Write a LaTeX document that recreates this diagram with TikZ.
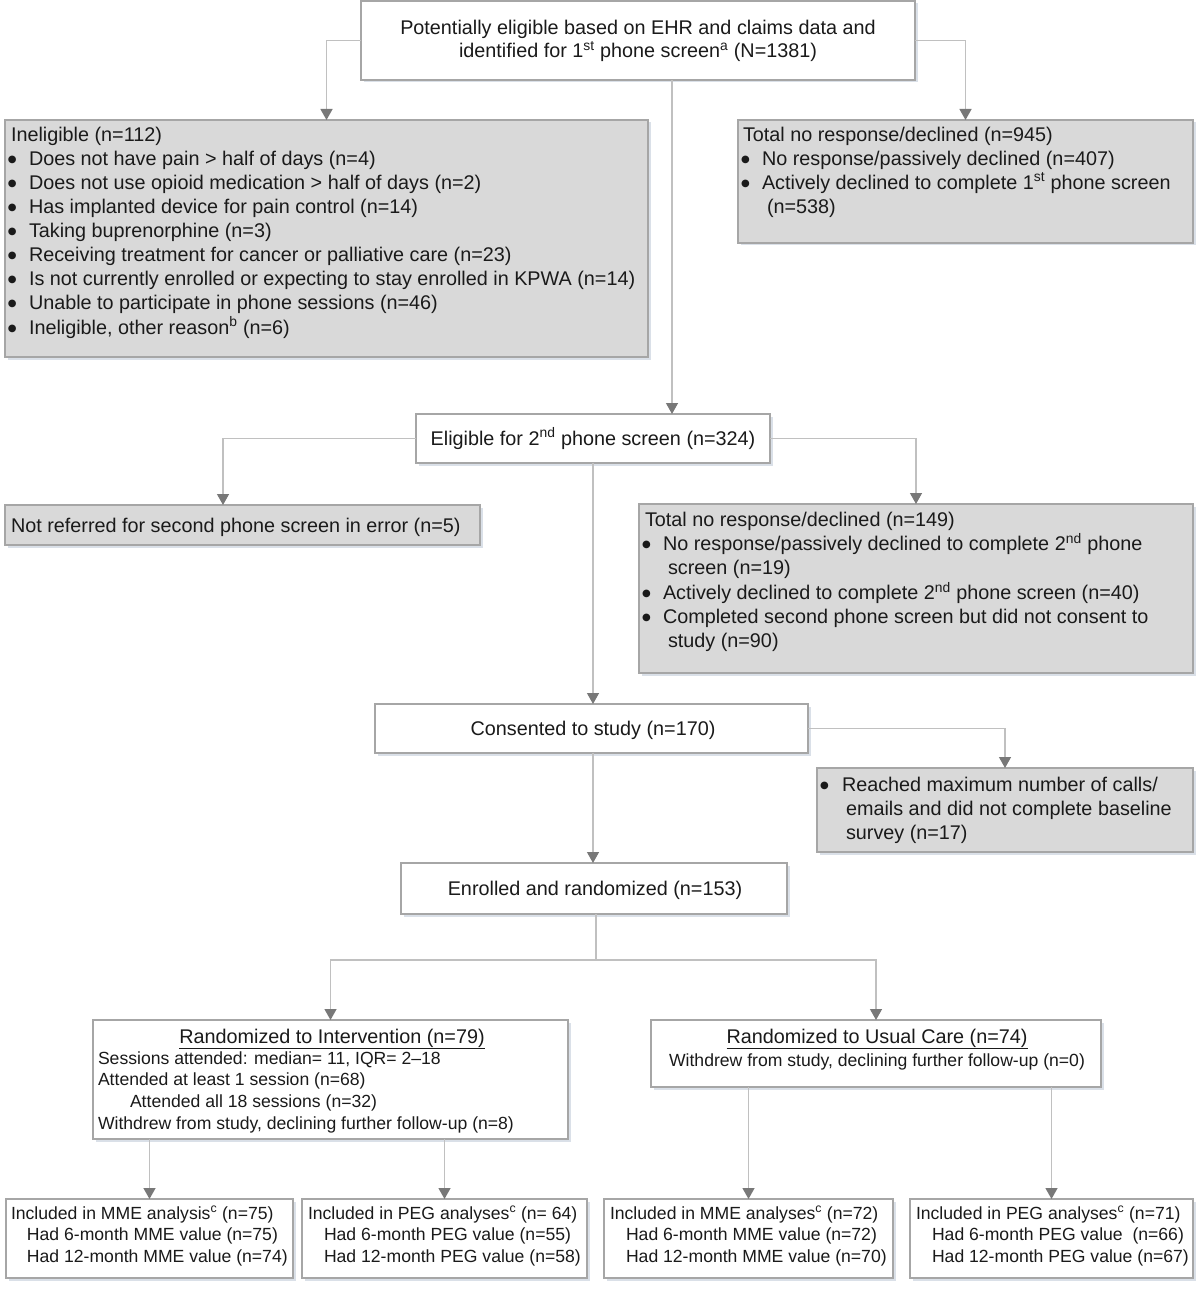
\documentclass[tikz,border=0pt]{standalone}
\usepackage{fontspec}
\setmainfont{Liberation Sans}
\newfontfamily\dvfont{DejaVu Sans}
\usetikzlibrary{arrows.meta,shadows}
\definecolor{bord}{HTML}{A6A6A6}
\definecolor{boxgray}{HTML}{D9D9D9}
\definecolor{linec}{HTML}{C0C0C0}
\definecolor{arrc}{HTML}{787878}
\definecolor{shad}{HTML}{CBD3DE}
\definecolor{txtc}{HTML}{1A1A1A}
\newcommand\fbig{\fontsize{19.8}{24}\selectfont}
\newcommand\fsml{\fontsize{17.6}{21.7}\selectfont}
\newcommand\bul[1][21pt]{\makebox[#1][l]{\raisebox{2.8pt}{\dvfont\fontsize{10}{12}\selectfont ●}}}
\begin{document}
\begin{tikzpicture}[x=1pt,y=-1pt,
  box/.style={draw=bord, line width=1.2pt, anchor=north west, inner sep=0pt, outer sep=0pt,
    drop shadow={shadow xshift=2.5pt, shadow yshift=-2.5pt, fill=shad, opacity=0.7}},
  wbox/.style={box, fill=white},
  gbox/.style={box, fill=boxgray},
  wh/.style 2 args={minimum width=#1, minimum height=#2},
  txt/.style={inner sep=0pt, outer sep=0pt, text=txtc, font=\fbig},
  stxt/.style={txt, font=\fsml},
  ln/.style={draw=linec, line width=1.3pt},
  arr/.style={ln, -{Triangle[length=11pt,width=12pt,color=arrc]}}]
\useasboundingbox (0,0) rectangle (1200,1289);

% ---------- boxes ----------
\node[wbox, wh={554}{79}] (top) at (361,1) {};
\node[gbox, wh={643}{237}] (inel) at (5,120) {};
\node[gbox, wh={455}{123}] (tnr) at (738,120) {};
\node[wbox, wh={354}{49}] (elig) at (416,414) {};
\node[gbox, wh={475}{40}] (notref) at (5,505) {};
\node[gbox, wh={554}{169}] (tnr2) at (639,504) {};
\node[wbox, wh={433}{49}] (cons) at (375,704) {};
\node[gbox, wh={376}{84}] (reach) at (817,768) {};
\node[wbox, wh={386}{51}] (enr) at (401,863) {};
\node[wbox, wh={475}{119}] (int) at (93,1020) {};
\node[wbox, wh={450}{67}] (uc) at (651,1020) {};
\node[wbox, wh={287}{79}] (bA) at (6,1199) {};
\node[wbox, wh={285}{79}] (bB) at (302,1199) {};
\node[wbox, wh={289}{79}] (bC) at (604,1199) {};
\node[wbox, wh={283}{79}] (bD) at (910,1199) {};

% ---------- texts ----------
\node[txt, anchor=base] (tTop) at (638,35) {\begin{tabular}[t]{@{}c@{}}Potentially eligible based on EHR and claims data and\\[-1pt]
identified for 1\textsuperscript{st} phone screen\textsuperscript{a} (N=1381)\end{tabular}};

\node[txt, anchor=base west] (tInel) at (8,141.5) {\begin{tabular}[t]{@{}l@{}}\hspace{3pt}Ineligible (n=112)\\
\bul Does not have pain > half of days (n=4)\\
\bul Does not use opioid medication > half of days (n=2)\\
\bul Has implanted device for pain control (n=14)\\
\bul Taking buprenorphine (n=3)\\
\bul Receiving treatment for cancer or palliative care (n=23)\\
\bul Is not currently enrolled or expecting to stay enrolled in KPWA (n=14)\\
\bul Unable to participate in phone sessions (n=46)\\
\bul Ineligible, other reason\textsuperscript{b} (n=6)\end{tabular}};

\node[txt, anchor=base west] (tTnr) at (741,141.5) {\begin{tabular}[t]{@{}l@{}}\hspace{2pt}Total no response/declined (n=945)\\
\bul No response/passively declined (n=407)\\
\bul Actively declined to complete 1\textsuperscript{st} phone screen\\
\hspace{26pt}(n=538)\end{tabular}};

\node[txt, anchor=base] (tElig) at (593,445) {Eligible for 2\textsuperscript{nd} phone screen (n=324)};

\node[txt, anchor=base west] (tNotref) at (11,532) {Not referred for second phone screen in error (n=5)};

\node[txt, anchor=base west] (tTnr2) at (642,526) {\begin{tabular}[t]{@{}l@{}}\hspace{3pt}Total no response/declined (n=149)\\
\bul No response/passively declined to complete 2\textsuperscript{nd} phone\\
\hspace{26pt}screen (n=19)\\
\bul Actively declined to complete 2\textsuperscript{nd} phone screen (n=40)\\
\bul Completed second phone screen but did not consent to\\
\hspace{26pt}study (n=90)\end{tabular}};

\node[txt, anchor=base] (tCons) at (593,735) {Consented to study (n=170)};

\node[txt, anchor=base west] (tReach) at (820,791) {\begin{tabular}[t]{@{}l@{}}\bul[22pt]Reached maximum number of calls/\\
\hspace{26pt}emails and did not complete baseline\\
\hspace{26pt}survey (n=17)\end{tabular}};

\node[txt, anchor=base] (tEnr) at (595,895) {Enrolled and randomized (n=153)};

\node[txt, anchor=base] (tIntT) at (332,1043) {\underline{Randomized to Intervention (n=79)}};
\node[stxt, anchor=base west] (tInt) at (98,1064) {\begin{tabular}[t]{@{}l@{}}Sessions attended: median= 11, IQR= 2–18\\
Attended at least 1 session (n=68)\\
\hspace{32pt}Attended all 18 sessions (n=32)\\
Withdrew from study, declining further follow-up (n=8)\end{tabular}};

\node[txt, anchor=base] (tUcT) at (877,1043) {\underline{Randomized to Usual Care (n=74)}};
\node[stxt, anchor=base] (tUc) at (877,1066) {Withdrew from study, declining further follow-up (n=0)};

\node[stxt, anchor=base west] (tA) at (11,1219) {\begin{tabular}[t]{@{}l@{}}Included in MME analysis\textsuperscript{c} (n=75)\\
\hspace{16pt}Had 6-month MME value (n=75)\\
\hspace{16pt}Had 12-month MME value (n=74)\end{tabular}};
\node[stxt, anchor=base west] (tB) at (308,1219) {\begin{tabular}[t]{@{}l@{}}Included in PEG analyses\textsuperscript{c} (n= 64)\\
\hspace{16pt}Had 6-month PEG value (n=55)\\
\hspace{16pt}Had 12-month PEG value (n=58)\end{tabular}};
\node[stxt, anchor=base west] (tC) at (610,1219) {\begin{tabular}[t]{@{}l@{}}Included in MME analyses\textsuperscript{c} (n=72)\\
\hspace{16pt}Had 6-month MME value (n=72)\\
\hspace{16pt}Had 12-month MME value (n=70)\end{tabular}};
\node[stxt, anchor=base west] (tD) at (916,1219) {\begin{tabular}[t]{@{}l@{}}Included in PEG analyses\textsuperscript{c} (n=71)\\
\hspace{16pt}Had 6-month PEG value\ \ (n=66)\\
\hspace{16pt}Had 12-month PEG value (n=67)\end{tabular}};

% ---------- connectors ----------
\coordinate (cTop) at (672,0);
\coordinate (cNot) at (223,0);
\coordinate (split) at (596,960);
\draw[arr] (top.west) -| (inel.north);
\draw[arr] (top.east) -| (tnr.north);
\draw[arr] (top.south -| cTop) -- (elig.north -| cTop);
\draw[arr] (elig.west) -| (notref.north -| cNot);
\draw[arr] (elig.east) -| (tnr2.north);
\draw[arr] (elig.south) -- (elig.south |- cons.north);
\draw[arr] (cons.east) -| (reach.north);
\draw[arr] (cons.south -| elig.south) -- (enr.north -| elig.south);
\draw[ln] (enr.south -| split) -- (split);
\draw[arr] (split) -| (int.north);
\draw[arr] (split) -| (uc.north);
\draw[arr] (int.south -| bA.north) -- (bA.north);
\draw[arr] (int.south -| bB.north) -- (bB.north);
\draw[arr] (uc.south -| bC.north) -- (bC.north);
\draw[arr] (uc.south -| bD.north) -- (bD.north);
\end{tikzpicture}
\end{document}
